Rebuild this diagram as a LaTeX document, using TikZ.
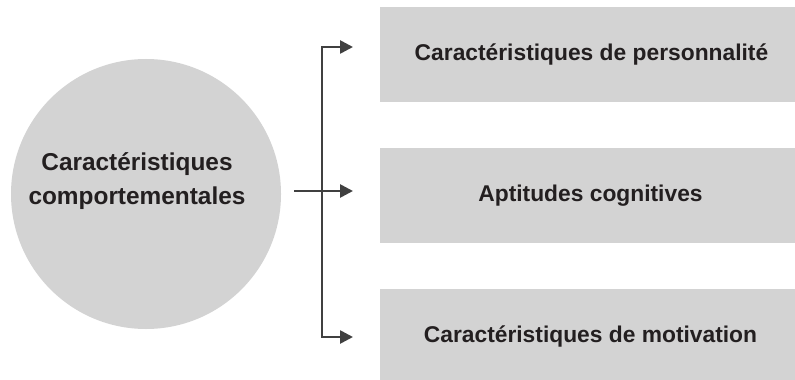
\documentclass[tikz,border=0pt]{standalone}
\usepackage{fontspec}
\setmainfont{Liberation Sans}
\usetikzlibrary{arrows.meta,positioning}
\definecolor{boxgray}{HTML}{D3D3D3}
\definecolor{linegray}{HTML}{404040}
\definecolor{textdark}{HTML}{231F20}
\tikzstyle{arrow} = [line width=1.3pt,color=linegray,-{Triangle[length=6.5pt,width=6.5pt]}]
\tikzstyle{trait} = [rectangle,fill=boxgray,minimum width=207.5pt,minimum height=47.5pt,inner sep=0pt,text=textdark,font=\fontsize{11.4}{13.7}\selectfont\bfseries]

\begin{document}
\begin{tikzpicture}[x=0.5pt,y=-0.5pt]
\useasboundingbox (0,0) rectangle (795,379);

\node[circle,fill=boxgray,minimum size=135pt,inner sep=0pt] (comp) at (146,194) {};
\node[align=center,text=textdark,font=\fontsize{12.2}{17}\selectfont\bfseries] (compText) at (137,181) {Caractéristiques\\comportementales};

\node[trait] (pers) at (587.5,54.5) {\hspace{4pt}Caractéristiques de personnalité};
\node[trait,below=22.5pt of pers] (cogn) {\hspace{3pt}Aptitudes cognitives};
\node[trait,below=22.5pt of cogn] (motiv) {\hspace{3pt}Caractéristiques de motivation};

\coordinate (split) at (322,191);
\coordinate (tipP) at (353,47);
\coordinate (tipC) at (353,191);
\coordinate (tipM) at (353,337);

\draw [arrow] ([xshift=6.5pt,yshift=1.5pt]comp.east) -- (tipC);
\draw [arrow] (split) |- (tipP);
\draw [arrow] (split) |- (tipM);
\end{tikzpicture}
\end{document}
